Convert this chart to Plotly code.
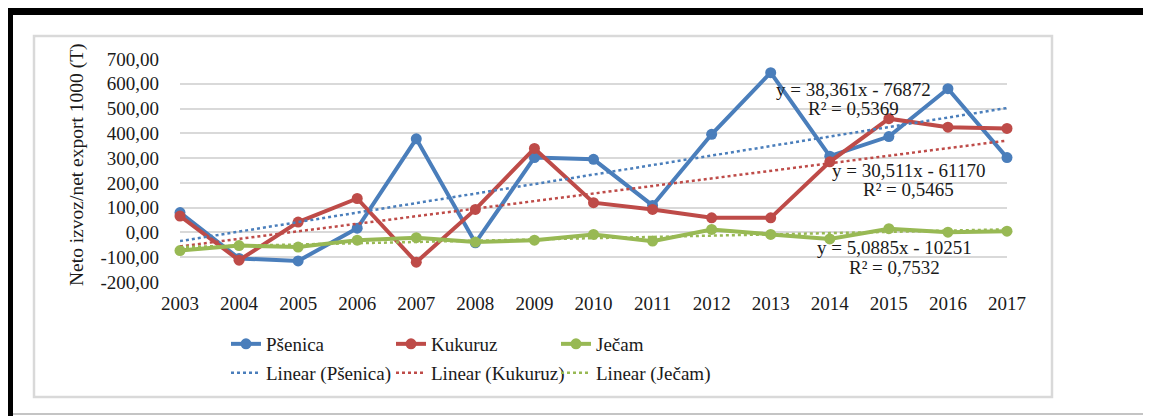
import plotly.graph_objects as go

# ---------------- data ----------------
years = list(range(2003, 2018))
psenica = [80, -105, -115, 17, 378, -42, 302, 295, 109, 396, 645, 308, 387, 580, 302]
kukuruz = [66, -112, 42, 137, -120, 93, 339, 120, 93, 59, 59, 285, 459, 425, 420]
jecam = [-73, -53, -59, -31, -21, -39, -31, -8, -35, 12, -8, -26, 15, 1, 5]

series_names = ["Pšenica", "Kukuruz", "Ječam"]
trend_slopes = [38.361, 30.511, 5.0885]
trend_intercepts = [-76872, -61170, -10251]
eq_texts = ["y = 38,361x - 76872", "y = 30,511x - 61170", "y = 5,0885x - 10251"]
r2_texts = ["R² = 0,5369", "R² = 0,5465", "R² = 0,7532"]

y_tickvals = [-200, -100, 0, 100, 200, 300, 400, 500, 600, 700]
y_ticktext = ["-200,00", "-100,00", "0,00", "100,00", "200,00", "300,00",
              "400,00", "500,00", "600,00", "700,00"]
y_title = "Neto izvoz/net export 1000 (T)"

# ---------------- styling ----------------
OFF = 8                       # page body margin of the browser
W, H = 1151 - OFF, 416 - OFF
PL, PR, PT, PB = 180, 1007, 59, 282   # plot-area box in page pixels
colors = ["#4A7EBB", "#BE4B48", "#98B954"]
FONT = "Liberation Serif"
TXT = "#1a1a1a"


def px(x):
    return (x - PL) / (PR - PL)


def py(y):
    return (PB - y) / (PB - PT)


fig = go.Figure()
all_series = [psenica, kukuruz, jecam]
for name, vals, c in zip(series_names, all_series, colors):
    fig.add_trace(go.Scatter(
        x=years, y=vals, name=name, mode="lines+markers",
        line=dict(color=c, width=4), marker=dict(color=c, size=11),
        cliponaxis=False, legend="legend"))

for name, m, b, c in zip(series_names, trend_slopes, trend_intercepts, colors):
    fig.add_trace(go.Scatter(
        x=years, y=[m * yr + b for yr in years], name=f"Linear ({name})",
        mode="lines", line=dict(color=c, width=2.5, dash="dot"),
        cliponaxis=False, legend="legend2"))

# equation annotations (pixel centres)
eq_pos = [(853, 89, 108), (908, 170, 190), (894, 247, 267)]
annotations = []
for (cx, y1, y2), eq, r2 in zip(eq_pos, eq_texts, r2_texts):
    annotations.append(dict(x=px(cx), y=py(y1), xref="paper", yref="paper",
                            text=eq, showarrow=False, xanchor="center", yanchor="middle",
                            font=dict(family=FONT, size=19, color=TXT)))
    annotations.append(dict(x=px(cx), y=py(y2), xref="paper", yref="paper",
                            text=r2, showarrow=False, xanchor="center", yanchor="middle",
                            font=dict(family=FONT, size=19, color=TXT)))

annotations.append(dict(x=px(77), y=py(165), xref="paper", yref="paper",
                        text=y_title, textangle=-90, showarrow=False,
                        xanchor="center", yanchor="middle",
                        font=dict(family=FONT, size=19.5, color=TXT)))

shapes = [
    # chart-area gray frame
    dict(type="rect", xref="paper", yref="paper", x0=px(34), x1=px(1052),
         y0=py(36), y1=py(397), line=dict(color="#d9d9d9", width=2.5)),
    # thick black top border
    dict(type="rect", xref="paper", yref="paper", x0=px(5), x1=px(1160),
         y0=py(6), y1=py(15), line=dict(width=0), fillcolor="black"),
    # thick black left border
    dict(type="rect", xref="paper", yref="paper", x0=px(4), x1=px(13),
         y0=py(6), y1=py(420), line=dict(width=0), fillcolor="black"),
    # thin gray bottom line
    dict(type="line", xref="paper", yref="paper", x0=px(13), x1=px(1160),
         y0=py(414), y1=py(414), line=dict(color="#b0b0b0", width=1.5)),
]

fig.update_layout(
    width=W, height=H,
    margin=dict(l=PL - OFF, r=W - (PR - OFF), t=PT - OFF, b=H - (PB - OFF),
                pad=0, autoexpand=False),
    paper_bgcolor="white", plot_bgcolor="white",
    font=dict(family=FONT, size=19, color=TXT),
    showlegend=True,
    legend=dict(orientation="h", x=px(226), y=py(325), xanchor="left", yanchor="top",
                entrywidth=120, font=dict(family=FONT, size=19, color=TXT),
                bgcolor="rgba(0,0,0,0)", tracegroupgap=0, itemwidth=30),
    legend2=dict(orientation="h", x=px(226), y=py(354), xanchor="left", yanchor="top",
                 entrywidth=120, font=dict(family=FONT, size=19, color=TXT),
                 bgcolor="rgba(0,0,0,0)", itemwidth=30),
    xaxis=dict(range=[2003, 2017], tickvals=years, ticktext=[str(y) for y in years],
               showgrid=False, zeroline=False, showline=False, ticks="",
               automargin=False,
               ticklabelstandoff=8, tickfont=dict(family=FONT, size=19, color=TXT)),
    yaxis=dict(range=[-200, 700], tickvals=y_tickvals, ticktext=y_ticktext,
               showgrid=True, gridcolor="#d9d9d9", gridwidth=1.5,
               zeroline=False, showline=False, ticks="", automargin=False,
               ticklabelstandoff=20, tickfont=dict(family=FONT, size=19, color=TXT)),
    annotations=annotations, shapes=shapes,
)

fig.write_html("out.html")
